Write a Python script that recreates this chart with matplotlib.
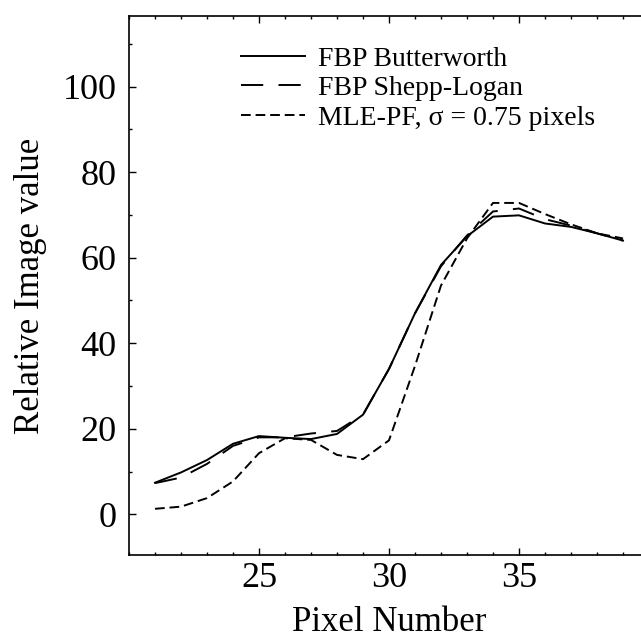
import matplotlib
matplotlib.use('Agg')
import matplotlib.pyplot as plt
from matplotlib.ticker import MultipleLocator

plt.rcParams['font.family'] = ['Liberation Serif', 'DejaVu Serif']
plt.rcParams['lines.scale_dashes'] = False

pixels = [21, 22, 23, 24, 25, 26, 27, 28, 29, 30, 31, 32, 33, 34, 35, 36, 37, 38, 39]
butterworth = [7.4, 9.8, 12.7, 16.5, 18.3, 17.9, 17.6, 18.8, 23.3, 34.0, 47.0, 58.3, 65.0, 69.6, 69.9, 68.0, 67.2, 65.7, 64.0]
shepp_logan = [7.3, 8.6, 11.8, 16.0, 18.0, 18.0, 18.9, 19.5, 23.3, 34.0, 47.0, 58.0, 65.2, 70.8, 71.5, 69.0, 67.5, 65.7, 64.0]
mle_pf = [1.3, 1.8, 3.8, 7.7, 14.3, 17.8, 17.4, 13.9, 12.9, 17.3, 34.7, 53.5, 64.5, 72.8, 72.8, 70.2, 67.8, 65.7, 64.5]

labels = ['FBP Butterworth', 'FBP Shepp-Logan', 'MLE-PF, σ = 0.75 pixels']

fig = plt.figure(figsize=(6.41, 6.41), dpi=100)
ax = fig.add_axes([129/641, 1 - 555/641, 520/641, (555 - 16)/641])

ax.plot(pixels, butterworth, color='black', lw=1.4, label=labels[0])
ax.plot(pixels, shepp_logan, color='black', lw=1.4, dashes=(16, 11), label=labels[1])
ax.plot(pixels, mle_pf, color='black', lw=1.4, dashes=(7, 3.5), label=labels[2])

ax.set_xlim(20, 40)
ax.set_ylim(-9.5, 116.5)
ax.xaxis.set_minor_locator(MultipleLocator(1))
ax.yaxis.set_major_locator(MultipleLocator(20))
ax.yaxis.set_minor_locator(MultipleLocator(10))
ax.set_xticks([25, 30, 35])
ax.tick_params(which='both', direction='in', top=True, right=True, width=1, color='black')
ax.tick_params(which='major', length=5, labelsize=26)
ax.tick_params(axis='y', which='major', pad=9)
ax.tick_params(axis='x', which='major', pad=5)
ax.tick_params(which='minor', length=2.5)
for s in ax.spines.values():
    s.set_linewidth(1.2)

ax.set_xlabel('Pixel Number', fontsize=25, labelpad=8)
ax.set_ylabel('Relative Image value', fontsize=25, labelpad=11)

ax.legend(loc='upper left', bbox_to_anchor=(0.188, 0.97), frameon=False, fontsize=20,
          handlelength=2.3, handletextpad=0.5, labelspacing=0.15, borderpad=0)

fig.savefig('out.png', dpi=100)
